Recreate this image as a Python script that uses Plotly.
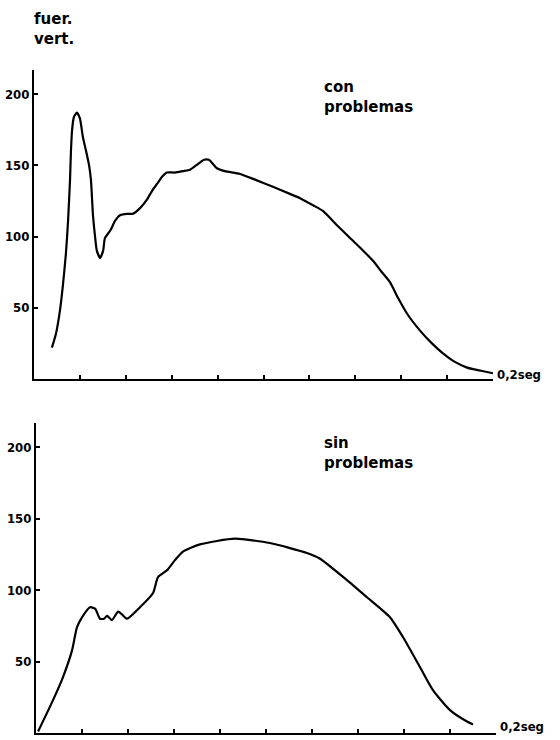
import plotly.graph_objects as go

# Top panel: "con problemas"  (time in s, vertical force)
t_con = [0.0078, 0.0096, 0.0113, 0.0126, 0.0139, 0.0148, 0.0157, 0.0161, 0.0166, 0.0174,
         0.0187, 0.0200, 0.0213, 0.0227, 0.0240, 0.0248, 0.0257, 0.0266, 0.0274, 0.0288,
         0.0301, 0.0309, 0.0322, 0.0335, 0.0353, 0.0375, 0.0405, 0.0431, 0.0462, 0.0492,
         0.0514, 0.0536, 0.0558, 0.0579, 0.0614, 0.0649, 0.0680, 0.0706, 0.0723, 0.0741,
         0.0762, 0.0780, 0.0797, 0.0832, 0.0898, 0.0963, 0.1041, 0.1115, 0.1159, 0.1216,
         0.1259, 0.1320, 0.1377, 0.1429, 0.1477, 0.1516, 0.1551, 0.1586, 0.1625, 0.1682,
         0.1734, 0.1782, 0.1834, 0.1887, 0.1943, 0.2000]
f_con = [22, 32, 48, 66, 88, 110, 140, 160, 175, 184,
         187, 183, 170, 160, 150, 140, 115, 100, 90, 85,
         90, 99, 102, 105, 111, 115, 116, 116, 120, 126,
         132, 137, 142, 145, 145, 146, 147, 150, 152, 154,
         154, 151, 148, 146, 144, 140, 135, 130, 127, 122,
         118, 108, 99, 91, 83, 75, 68, 57, 46, 34,
         25, 18, 12, 8, 6, 4]

# Bottom panel: "sin problemas"
t_sin = [0.0009, 0.0074, 0.0117, 0.0157, 0.0178, 0.0200, 0.0235, 0.0257, 0.0278, 0.0296,
         0.0309, 0.0330, 0.0357, 0.0374, 0.0396, 0.0452, 0.0509, 0.0530, 0.0570, 0.0604,
         0.0639, 0.0713, 0.0865, 0.1017, 0.1178, 0.1235, 0.1352, 0.1439, 0.1539, 0.1596,
         0.1670, 0.1726, 0.1800, 0.1874, 0.1900]
f_sin = [1, 23, 39, 58, 74, 81, 88, 87, 80, 80,
         82, 79, 85, 83, 80, 88, 98, 109, 114, 121,
         127, 132, 136, 133, 126, 122, 107, 95, 81, 67,
         46, 30, 16, 8, 6]

y_ticks = [50, 100, 150, 200]
x_ticks = [0.02, 0.04, 0.06, 0.08, 0.10, 0.12, 0.14, 0.16, 0.18]

W, H = 560, 740
BOLD = "DejaVu Sans, Liberation Sans, Arial"
NARROW = "DejaVu Sans Condensed, Liberation Sans Narrow, Arial Narrow, DejaVu Sans"

fig = go.Figure()
fig.add_trace(go.Scatter(x=t_con, y=f_con, mode="lines", xaxis="x", yaxis="y",
                         line=dict(color="black", width=2.2, shape="spline", smoothing=0.6),
                         showlegend=False, hoverinfo="skip"))
fig.add_trace(go.Scatter(x=t_sin, y=f_sin, mode="lines", xaxis="x2", yaxis="y2",
                         line=dict(color="black", width=2.2, shape="spline", smoothing=0.6),
                         showlegend=False, hoverinfo="skip"))

def xa(dom, anchor):
    return dict(domain=dom, anchor=anchor, range=[0, 0.2], showgrid=False, zeroline=False,
                showline=True, linecolor="black", linewidth=2, automargin=False,
                ticks="inside", ticklen=4, tickwidth=1.5, tickcolor="black",
                tickvals=x_ticks, showticklabels=False, fixedrange=True)

def ya(dom, anchor):
    return dict(domain=dom, anchor=anchor, range=[0, 217], showgrid=False, zeroline=False,
                showline=True, linecolor="black", linewidth=2, automargin=False,
                ticks="inside", ticklen=4, tickwidth=1.5, tickcolor="black",
                tickvals=y_ticks, ticktext=["<b>50</b>", "<b>100</b>", "<b>150</b>", "<b>200</b>"],
                tickfont=dict(family=NARROW, size=13, color="black"), fixedrange=True)

fig.update_layout(
    width=W, height=H,
    margin=dict(l=0, r=0, t=0, b=0, autoexpand=False),
    paper_bgcolor="white", plot_bgcolor="white",
    xaxis=xa([34 / W, 493 / W], "y"),
    yaxis=ya([(H - 379) / H, (H - 70) / H], "x"),
    xaxis2=xa([36 / W, 496 / W], "y2"),
    yaxis2=ya([(H - 733) / H, (H - 423) / H], "x2"),
)

ann_font = dict(family=BOLD, size=15, color="black")
fig.add_annotation(x=32 / W, y=1 - 8 / H, xref="paper", yref="paper", xanchor="left", yanchor="top",
                   text="<b>fuer.<br>vert.</b>", showarrow=False, align="left", font=ann_font)
fig.add_annotation(x=0.1255, y=198, xref="x", yref="y", xanchor="left", yanchor="middle",
                   text="<b>con<br>problemas</b>", showarrow=False, align="left", font=ann_font)
fig.add_annotation(x=0.1243, y=196, xref="x2", yref="y2", xanchor="left", yanchor="middle",
                   text="<b>sin<br>problemas</b>", showarrow=False, align="left", font=ann_font)
fig.add_annotation(x=0.2, y=0, xref="x", yref="y", xanchor="left", yanchor="middle",
                   text="<b>0,2seg</b>", showarrow=False, xshift=2, yshift=5,
                   font=dict(family=NARROW, size=13, color="black"))
fig.add_annotation(x=0.2, y=0, xref="x2", yref="y2", xanchor="left", yanchor="middle",
                   text="<b>0,2seg</b>", showarrow=False, xshift=2, yshift=7,
                   font=dict(family=NARROW, size=13, color="black"))

fig.write_html("out.html", config={"displayModeBar": False},
               post_script="document.body.style.margin='0px';document.body.style.overflow='hidden';")
